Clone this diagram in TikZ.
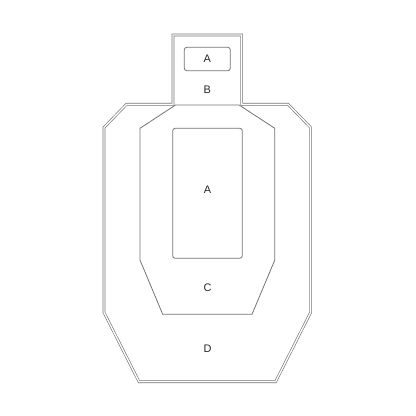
\documentclass[tikz,border=0pt]{standalone}
\usepackage{fontspec}
\setmainfont{Liberation Sans}

\begin{document}
\begin{tikzpicture}[x=1bp,y=-1bp,
        outline/.style={draw=gray!90!black,line width=.65bp,double=white,
        double distance=1.35bp,line join=miter},
        zone/.style={draw=gray!90!black,line width=.8bp,line join=miter},
        hit/.style={zone,rounded corners=2.5bp},
        lbl/.style={font=\fontsize{11}{13}\selectfont,text=black!85,inner sep=0pt}]
        \useasboundingbox (0,0) rectangle (416,416);

        % silhouette
        \draw[outline] (173,35) -- (241.6,35) -- (241.6,104.3) -- (288.1,104.3)
            -- (310.6,127.5) -- (310.6,312.5) -- (275.6,381.7) -- (139,381.7)
            -- (104,312.5) -- (104,127.5) -- (126.5,104.3) -- (173,104.3) -- cycle;

        % C zone
        \draw[zone] (175.5,105) -- (140,128.3) -- (140,260) -- (162.7,314.3)
            -- (252,314.3) -- (274.8,260) -- (274.8,128.3) -- (239.1,105) -- cycle;

        % A zones
        \draw[hit] (184.3,47.3) rectangle (230.3,70.7);
        \draw[hit] (172.7,128.3) rectangle (242.3,258.3);

        \node[lbl] (headA) at (207.3,59) {A};
        \node[lbl] (headB) at (207.3,89.3) {B};
        \node[lbl] (bodyA) at (207.5,190) {A};
        \node[lbl] (zoneC) at (207.5,288) {C};
        \node[lbl] (zoneD) at (207.5,348.3) {D};
    \end{tikzpicture}
\end{document}
